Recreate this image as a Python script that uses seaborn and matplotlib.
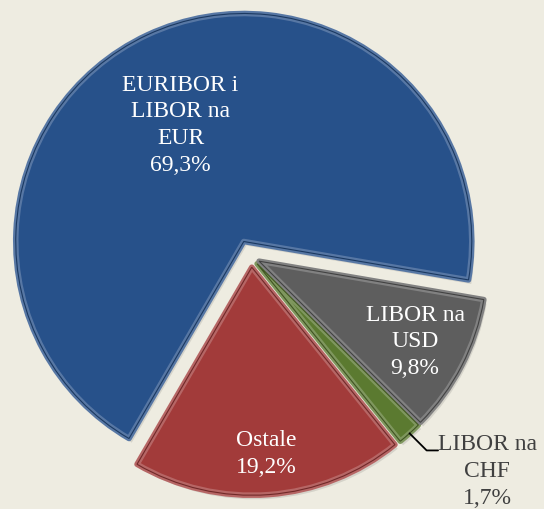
import matplotlib
matplotlib.use("Agg")
import matplotlib.pyplot as plt
import seaborn as sns
import numpy as np

# ---- data ----
categories = ["EURIBOR i\nLIBOR na\nEUR", "Ostale", "LIBOR na\nCHF", "LIBOR na\nUSD"]
values = [69.3, 19.2, 1.7, 9.8]
value_labels = ["69,3%", "19,2%", "1,7%", "9,8%"]

# ---- style ----
colors = ["#27518A", "#A23B3A", "#5B7A30", "#5E5E5E"]
explode = [0.075, 0.045, 0.04, 0.04]
label_dist = [0.58, 0.82, None, 0.77]
label_rot = [3.5, 0.0, 0.0, 0.0]
bg = "#EEECE1"

sns.set_theme(style="white")
plt.rcParams["font.family"] = ["Liberation Serif", "DejaVu Serif"]

W, H, dpi = 544, 509, 100
fig = plt.figure(figsize=(W / dpi, H / dpi), dpi=dpi, facecolor=bg)
ax = fig.add_axes([0, 0, 1, 1])
ax.set_facecolor(bg)

def lighten(c, f):
    r, g, b = matplotlib.colors.to_rgb(c)
    return (r + (1 - r) * f, g + (1 - g) * f, b + (1 - b) * f)

def darken(c, f):
    r, g, b = matplotlib.colors.to_rgb(c)
    return (r * (1 - f), g * (1 - f), b * (1 - f))

start = -9.7
# soft shadow
ax.pie(values, explode=explode, startangle=start, counterclock=True,
       colors=["#000000"] * 4, radius=1.0, center=(0.012, -0.018),
       wedgeprops=dict(linewidth=0, alpha=0.10))
# main wedges with bevel-like rim
wedges, _ = ax.pie(values, explode=explode, startangle=start, counterclock=True,
                   colors=colors, radius=1.0, wedgeprops=dict(linewidth=0))
for w, c in zip(wedges, colors):
    w.set_edgecolor(lighten(c, 0.22))
    w.set_linewidth(4.0)
    w.set_joinstyle("round")
wedges2, _ = ax.pie(values, explode=explode, startangle=start, counterclock=True,
                    colors=colors, radius=1.0, wedgeprops=dict(linewidth=0.8))
for w, c in zip(wedges2, colors):
    w.set_facecolor("none")
    w.set_edgecolor(darken(c, 0.3))

fs = 17
ls = 1.36
for i, (w, cat, vl) in enumerate(zip(wedges, categories, value_labels)):
    th = np.deg2rad((w.theta1 + w.theta2) / 2 + label_rot[i])
    cx, cy = w.center
    if label_dist[i] is not None:
        r = label_dist[i]
        ax.text(cx + r * np.cos(th), cy + r * np.sin(th), cat + "\n" + vl,
                ha="center", va="center", color="white", fontsize=fs,
                linespacing=ls, multialignment="center")
    else:
        p0 = (cx + 1.0 * np.cos(th), cy + 1.0 * np.sin(th))
        p1 = (p0[0] + 0.075, p0[1] - 0.075)
        p2 = (p1[0] + 0.05, p1[1])
        ax.plot([p0[0], p1[0], p2[0]], [p0[1], p1[1], p2[1]], color="black", lw=1.3)
        ax.text(p2[0] + 0.215, p2[1] + 0.07, cat + "\n" + vl, ha="center", va="top",
                color="#404040", fontsize=fs, linespacing=ls,
                multialignment="center")

# map pie centre to pixel, 228 px per unit
px_per = 228.0
cxp, cyp = 251.0, 257.0
ax.set_aspect("auto")
ax.set_xlim(-cxp / px_per, (W - cxp) / px_per)
ax.set_ylim(-(H - cyp) / px_per, cyp / px_per)
ax.axis("off")

fig.savefig("out.png", dpi=dpi, facecolor=bg)
